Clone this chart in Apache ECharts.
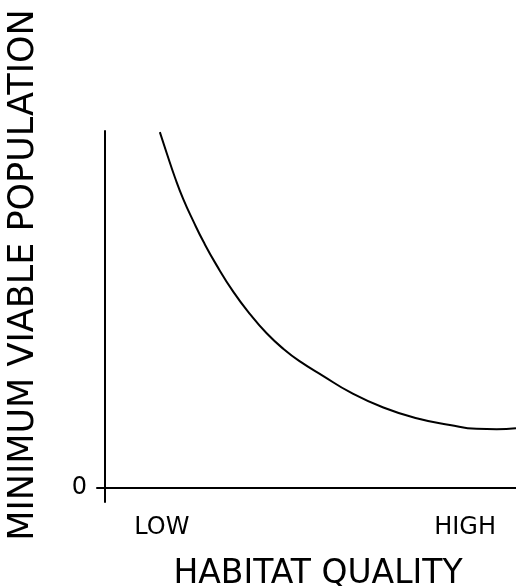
<!DOCTYPE html>
<html>
<head>
<meta charset="utf-8">
<script src="https://cdn.jsdelivr.net/npm/echarts@6/dist/echarts.min.js"></script>
<style>
html,body{margin:0;padding:0;background:#fff;}
#chart{width:516px;height:586px;}
</style>
</head>
<body>
<div id="chart"></div>
<script>
// Habitat quality (0 = left axis, 100 = right edge) and minimum viable population (relative)
var quality = [13.3, 15.0, 17.0, 19.0, 21.5, 23.9, 27.1, 31.2, 35.3, 39.3, 43.4, 47.4, 53.1, 59.6, 67.7, 75.8, 83.9, 90.4, 95.3, 100];
var mvp     = [99.7, 93.7, 86.9, 80.9, 74.6, 69.0, 62.4, 54.9, 48.6, 43.3, 38.9, 35.4, 31.3, 26.8, 22.5, 19.5, 17.6, 16.5, 16.4, 16.7];
var xTickValues = [13.8, 87.6];
var xTickLabels = ['LOW', 'HIGH'];
var yTickValues = [0];
var yTickLabels = ['0'];
var xTitle = 'HABITAT QUALITY';
var yTitle = 'MINIMUM VIABLE POPULATION';

var points = quality.map(function (q, i) { return [q, mvp[i]]; });
var font = 'DejaVu Sans';

var chart = echarts.init(document.getElementById('chart'), null, {renderer: 'canvas'});
chart.setOption({
  backgroundColor: '#ffffff',
  animation: false,
  grid: {left: 97, right: 0, top: 131, bottom: 84, containLabel: false, outerBoundsMode: 'none'},
  xAxis: {
    type: 'value', min: -2, max: 100,
    axisLine: {show: true, onZero: true, lineStyle: {color: '#000', width: 2}},
    axisTick: {show: false},
    splitLine: {show: false},
    axisLabel: {
      customValues: xTickValues,
      margin: 14,
      color: '#000', fontFamily: font, fontSize: 24,
      formatter: function (v) { var i = xTickValues.indexOf(v); return i >= 0 ? xTickLabels[i] : ''; }
    },
    name: xTitle, nameLocation: 'middle', nameGap: 56,
    nameTextStyle: {color: '#000', fontFamily: font, fontSize: 33, padding: [0, 0, 0, 23]}
  },
  yAxis: {
    type: 'value', min: -4, max: 100,
    axisLine: {show: true, onZero: true, lineStyle: {color: '#000', width: 2}},
    axisTick: {show: false},
    splitLine: {show: false},
    axisLabel: {
      customValues: yTickValues,
      margin: 10,
      padding: [6, 0, 0, 0],
      color: '#000', fontFamily: font, fontSize: 24,
      formatter: function (v) { var i = yTickValues.indexOf(v); return i >= 0 ? yTickLabels[i] : ''; }
    },
    name: yTitle, nameLocation: 'middle', nameGap: 56,
    nameTextStyle: {color: '#000', fontFamily: font, fontSize: 35, padding: [0, 0, 0, 83]}
  },
  series: [{
    type: 'line',
    data: points,
    smooth: 0.5,
    smoothConstraint: false,
    showSymbol: false,
    lineStyle: {color: '#000', width: 2}
  }]
});
</script>
</body>
</html>
